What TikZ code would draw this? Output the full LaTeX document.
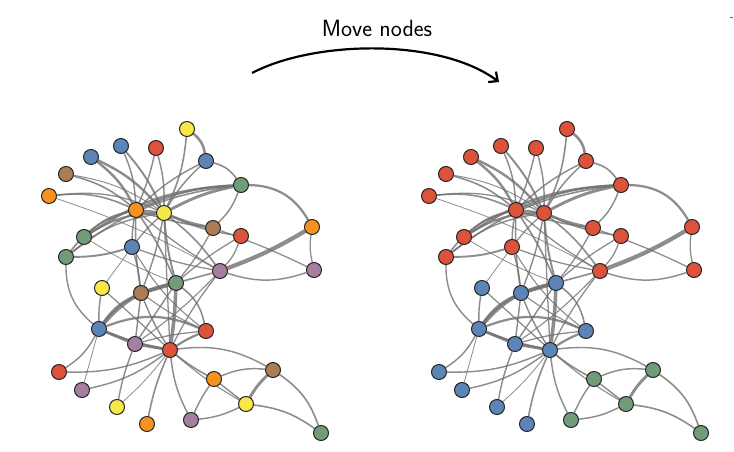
\documentclass[tikz,border=0pt]{standalone}
\usetikzlibrary{arrows.meta}
\pgfdeclarelayer{bg}
\pgfsetlayers{bg,main}
\definecolor{cR}{RGB}{220,82,58}
\definecolor{cB}{RGB}{92,132,182}
\definecolor{cG}{RGB}{112,156,122}
\definecolor{cO}{RGB}{245,146,32}
\definecolor{cY}{RGB}{246,232,72}
\definecolor{cN}{RGB}{170,125,85}
\definecolor{cP}{RGB}{166,126,160}
\definecolor{lnkgray}{RGB}{112,112,112}
\begin{document}
\begin{tikzpicture}[x=1pt,y=1pt,
  vtx/.style={circle,draw=black!85,line width=1pt,minimum size=15pt,inner sep=0pt},
  lnk/.style={draw=lnkgray,draw opacity=0.8}]
\useasboundingbox (0,0) rectangle (734,451);
\node[font=\sffamily\fontsize{23.5}{28}\selectfont] (title) at (377,{451-28}) {Move nodes};
\coordinate (arrS) at (252,{451-73});
\coordinate (arrE) at (499,{451-82});
\draw[line width=2.2pt,-{Straight Barb[length=7pt,width=13pt]}] (arrS) .. controls (315,{451-40}) and (440,{451-38}) .. (arrE);
\coordinate (tk1) at (730,{451-17});
\coordinate (tk2) at (733,{451-17});
\draw[line width=0.6pt,black!60] (tk1) -- (tk2);
% nodes: name / x / y / left colour / right colour
\foreach \n/\x/\y/\cl/\cr in {
 A1/187/129/cY/cR, A2/206/161/cB/cR, A3/121/146/cB/cR, A4/156/148/cR/cR,
 A5/91/157/cB/cR, A6/66/174/cN/cR, A7/49/196/cO/cR, H1/136/210/cO/cR,
 H2/164/213/cY/cR, B1/213/228/cN/cR, G1/84/237/cG/cR, G2/66/257/cG/cR,
 B2/132/247/cB/cR, C1/241/185/cG/cR, C2/241/236/cR/cR, C3/312/227/cO/cR,
 P1/220/271/cP/cR, P2/314/270/cP/cR,
 M1/176/283/cG/cB, M2/102/288/cY/cB, M3/141/293/cN/cB, L1/99/329/cB/cB,
 L2/135/344/cP/cB, L3/170/350/cR/cB, L4/206/331/cR/cB, L5/59/372/cR/cB,
 L6/82/390/cP/cB, L7/117/407/cY/cB, L8/147/424/cO/cB,
 R1/191/420/cP/cG, R2/214/379/cO/cG, R3/273/370/cN/cG, R4/246/404/cY/cG,
 R5/321/433/cG/cG}
{
 \node[vtx,fill=\cl] (l\n) at (\x,{451-\y}) {};
 \node[vtx,fill=\cr] (r\n) at ({\x+380},{451-\y}) {};
}
\begin{pgfonlayer}{bg}
\foreach \p in {l,r}{
 \foreach \a/\b/\w/\bd in {
  A1/A2/1.6/22, A1/H2/1.0/10, A2/H1/0.9/-8, A2/H2/0.9/-8, A2/C1/1.0/20,
  A3/H1/0.9/10, A3/H2/1.2/8, A4/H1/0.9/5, A4/H2/0.9/8,
  A5/H1/1.5/12, A5/H2/1.5/12, A6/H1/1.0/12, A6/H2/0.6/12,
  A7/H1/1.0/15, A7/H2/0.8/15, A7/P1/0.5/5,
  G1/H1/1.0/15, G1/H2/1.3/15, G1/C1/1.5/15, G1/M1/0.5/-5,
  G2/H1/1.0/18, G2/H2/0.9/15, G2/C1/1.0/15, G2/B2/1.2/-8, G2/L1/0.9/-25,
  B2/H1/0.9/5, B2/H2/0.8/5, B2/M3/0.9/5, B2/M2/0.5/0, B2/L4/0.7/-10, B2/P1/0.8/-5,
  H1/H2/1.6/0, H1/C1/1.3/10, H2/C1/1.8/8, H1/B1/1.0/-5, H2/B1/1.6/-5,
  H2/C2/0.9/-8, H2/P1/1.0/8, H1/P1/0.8/-5, H1/M1/1.0/5, H2/M1/1.2/-5,
  H1/M3/0.9/-5, H2/M3/0.9/5, H2/L3/0.8/0,
  C1/C3/1.4/30, C1/B1/0.9/12, B1/P2/0.8/3, B1/M1/0.8/5,
  C2/P1/0.8/12, C2/M1/0.8/-5, C3/P1/2.6/5, C3/P2/0.8/-10, P1/P2/0.9/-18,
  P1/M1/1.0/0, P1/L3/0.8/-5, P1/L2/0.7/5,
  M1/M3/2.2/0, L1/M1/2.2/18, L1/M3/1.8/14, M1/L3/2.2/3, M1/L4/1.0/20, M1/L2/0.9/0,
  M2/L1/0.9/-5, M2/L3/0.8/0, M3/L2/0.9/0, M3/L3/0.9/-5, M3/L4/0.7/-5,
  L1/L4/1.4/22, L1/L2/1.8/0, L1/L3/1.4/-5, L2/L3/1.8/0, L2/L4/0.8/5, L3/L4/1.4/5,
  L5/L1/0.9/-14, L5/L3/0.9/-12, L6/L3/0.9/-12, L6/L1/0.5/0,
  L7/L2/0.9/5, L7/L3/0.5/-5, L8/L3/1.0/6, R1/L3/0.9/10,
  L3/R2/1.0/-5, L3/R3/0.9/18, L3/R4/0.7/-5,
  R2/R3/0.9/14, R2/R1/0.9/-5, R2/R4/0.9/0, R4/R3/1.8/8, R4/R1/0.9/10,
  R4/R5/1.0/14, R3/R5/1.0/18}
 {
  \draw[lnk,line width={\w*1.6pt}] (\p\a) to[bend left=\bd] (\p\b);
 }
}
\end{pgfonlayer}
\end{tikzpicture}
\end{document}
